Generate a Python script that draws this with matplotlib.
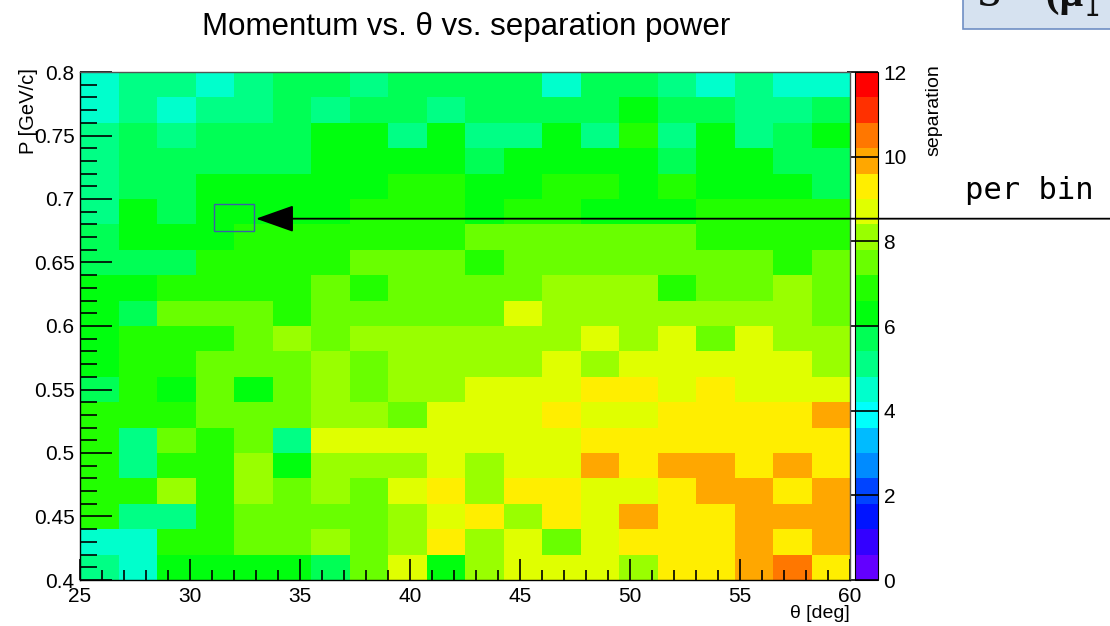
import colorsys

import numpy as np
import matplotlib
matplotlib.use('Agg')
import matplotlib.pyplot as plt
from matplotlib.colors import ListedColormap, BoundaryNorm
from matplotlib.patches import Rectangle
from matplotlib.ticker import MultipleLocator, FormatStrFormatter

plt.rcParams['font.family'] = ['Liberation Sans', 'DejaVu Sans']

# binning of the 2D histogram
theta_edges = np.linspace(25, 60, 21)
p_edges = np.linspace(0.4, 0.8, 21)
z_levels = np.linspace(0, 12, 21)
z_ticks = [0, 2, 4, 6, 8, 10, 12]

# separation power per bin; first row is P = 0.78-0.80, last row P = 0.40-0.42,
# columns run theta 25 -> 60 deg
separation = [
    [4.5, 5.1, 5.1, 4.5, 5.1, 5.7, 5.7, 5.1, 5.7, 5.7, 5.7, 5.7, 4.5, 5.7, 5.7, 5.1, 4.5, 5.1, 4.5, 4.5],
    [4.5, 5.1, 4.5, 5.1, 5.1, 5.7, 5.1, 5.7, 5.7, 5.1, 5.7, 5.7, 5.7, 5.7, 6.3, 5.7, 5.7, 5.1, 5.1, 5.7],
    [5.1, 5.7, 5.1, 5.7, 5.7, 5.7, 6.3, 6.3, 5.1, 6.3, 5.1, 5.1, 6.3, 5.1, 6.9, 5.1, 6.3, 5.1, 5.7, 6.3],
    [5.1, 5.7, 5.7, 5.7, 5.7, 5.7, 6.3, 6.3, 6.3, 6.3, 5.7, 6.3, 6.3, 6.3, 6.3, 5.7, 6.3, 6.3, 5.7, 5.7],
    [5.1, 5.7, 5.7, 6.3, 6.3, 6.3, 6.3, 6.3, 6.9, 6.9, 6.3, 6.3, 6.9, 6.9, 6.3, 6.9, 6.3, 6.3, 6.3, 5.7],
    [5.1, 6.3, 5.7, 6.3, 6.3, 6.3, 6.3, 6.9, 6.9, 6.9, 6.3, 6.9, 6.9, 6.3, 6.3, 6.3, 6.9, 6.9, 6.9, 6.9],
    [5.7, 6.3, 6.3, 6.3, 6.9, 6.9, 6.9, 6.9, 6.9, 6.9, 7.5, 7.5, 7.5, 7.5, 7.5, 7.5, 6.9, 6.9, 6.9, 6.9],
    [5.7, 5.7, 5.7, 6.9, 6.9, 6.9, 6.9, 7.5, 7.5, 7.5, 6.9, 7.5, 7.5, 7.5, 7.5, 7.5, 7.5, 7.5, 6.9, 7.5],
    [6.3, 6.3, 6.9, 6.9, 6.9, 6.9, 7.5, 6.9, 7.5, 7.5, 7.5, 7.5, 8.1, 8.1, 8.1, 6.9, 7.5, 7.5, 8.1, 7.5],
    [6.3, 5.7, 7.5, 7.5, 7.5, 6.9, 7.5, 7.5, 7.5, 7.5, 7.5, 8.7, 8.1, 8.1, 8.1, 8.1, 8.1, 8.1, 8.1, 7.5],
    [6.3, 6.9, 6.9, 6.9, 7.5, 8.1, 7.5, 8.1, 8.1, 8.1, 8.1, 8.1, 8.1, 8.7, 8.1, 8.7, 7.5, 8.7, 8.1, 8.1],
    [6.3, 6.9, 6.9, 7.5, 7.5, 7.5, 8.1, 7.5, 8.1, 8.1, 8.1, 8.1, 8.7, 8.1, 8.7, 8.7, 8.7, 8.7, 8.7, 8.1],
    [5.7, 6.9, 6.3, 7.5, 6.3, 7.5, 8.1, 7.5, 8.1, 8.1, 8.7, 8.7, 8.7, 9.3, 9.3, 8.7, 9.3, 8.7, 8.7, 8.7],
    [6.9, 6.9, 6.9, 7.5, 7.5, 7.5, 8.1, 8.1, 7.5, 8.7, 8.7, 8.7, 9.3, 8.7, 8.7, 9.3, 9.3, 9.3, 9.3, 9.9],
    [6.9, 5.1, 7.5, 6.9, 7.5, 5.1, 8.7, 8.7, 8.7, 8.7, 8.7, 8.7, 8.7, 9.3, 9.3, 9.3, 9.3, 9.3, 9.3, 9.3],
    [6.9, 5.1, 6.9, 6.9, 8.1, 6.3, 8.1, 8.1, 8.1, 8.7, 8.1, 8.7, 8.7, 9.9, 9.3, 9.9, 9.9, 9.3, 9.9, 9.3],
    [6.9, 6.9, 8.1, 6.9, 8.1, 7.5, 8.1, 7.5, 8.7, 9.3, 8.1, 9.3, 9.3, 8.7, 8.7, 9.3, 9.9, 9.9, 9.3, 9.9],
    [6.9, 5.1, 5.1, 6.9, 7.5, 7.5, 7.5, 7.5, 8.1, 8.7, 9.3, 8.1, 9.3, 8.7, 9.9, 9.3, 9.3, 9.9, 9.9, 9.9],
    [4.5, 4.5, 6.9, 6.9, 7.5, 7.5, 8.1, 7.5, 8.1, 9.3, 8.1, 8.7, 7.5, 8.7, 9.3, 9.3, 9.3, 9.9, 9.3, 9.9],
    [5.1, 4.5, 6.3, 6.3, 6.3, 6.3, 5.7, 7.5, 8.7, 6.3, 8.1, 8.7, 8.7, 8.7, 8.1, 9.3, 9.3, 9.9, 10.5, 9.3],
]

# highlighted region and where the arrow points
box_theta = (31.1, 32.9)
box_p = (0.675, 0.696)
arrow_tip = (33.0, 0.6845)

W, H = 1110, 626


def fx(px):
    return px / W


def fy(py):
    return 1 - py / H


# ROOT "pretty" palette: 50 HLS colours violet -> red, 20 contour levels
pretty = []
for i in range(50):
    hue = 280 - (i + 1) * 280 / 50
    pretty.append(colorsys.hls_to_rgb(hue / 360, 0.5, 1.0))
n_cont = len(z_levels) - 1
level_colors = [pretty[int((k + 0.99) * 50 / n_cont)] for k in range(n_cont)]
cmap = ListedColormap(level_colors)
norm = BoundaryNorm(z_levels, cmap.N)

fig = plt.figure(figsize=(W / 100, H / 100), dpi=100)
ax = fig.add_axes([fx(80), fy(580), (850 - 80) / W, (580 - 72) / H])
cax = fig.add_axes([fx(855), fy(580), 23 / W, (580 - 72) / H])
ax.set_zorder(3)  # so the arrow is drawn over the palette

z = np.array(separation)[::-1]
mesh = ax.pcolormesh(theta_edges, p_edges, z, cmap=cmap, norm=norm)
ax.set_xlim(theta_edges[0], theta_edges[-1])
ax.set_ylim(p_edges[0], p_edges[-1])

ax.xaxis.set_major_locator(MultipleLocator(5))
ax.xaxis.set_minor_locator(MultipleLocator(1))
ax.yaxis.set_major_locator(MultipleLocator(0.05))
ax.yaxis.set_minor_locator(MultipleLocator(0.01))
ax.xaxis.set_major_formatter(FormatStrFormatter('%g'))
ax.yaxis.set_major_formatter(FormatStrFormatter('%g'))
ax.tick_params(axis='x', which='major', direction='in', length=15, width=1.2, labelsize=15, pad=5)
ax.tick_params(axis='x', which='minor', direction='in', length=7, width=1.2)
ax.tick_params(axis='y', which='major', direction='in', length=23, width=1.2, labelsize=15, pad=4)
ax.tick_params(axis='y', which='minor', direction='in', length=12, width=1.2)
for sp in ax.spines.values():
    sp.set_linewidth(1.0)
    sp.set_color('#555555')
ax.spines['left'].set_color('black')
ax.spines['bottom'].set_color('black')

cb = fig.colorbar(mesh, cax=cax, ticks=z_ticks)
cb.outline.set_linewidth(0.8)
cb.ax.yaxis.set_major_formatter(FormatStrFormatter('%g'))
cb.ax.tick_params(direction='in', length=22, width=1.2, labelsize=15, pad=4)
cb.ax.minorticks_off()

# titles
fig.text(fx(466), fy(27), 'Momentum vs. θ vs. separation power', ha='center', va='center', fontsize=22.5)
fig.text(fx(29), fy(68), 'P [GeV/c]', rotation=90, ha='center', va='top', fontsize=14.5)
fig.text(fx(850), fy(614), 'θ [deg]', ha='right', va='center', fontsize=14)
fig.text(fx(934), fy(64), 'separation', rotation=90, ha='center', va='top', fontsize=14)

# marked bin and arrow coming in from the right
ax.add_patch(Rectangle((box_theta[0], box_p[0]), box_theta[1] - box_theta[0], box_p[1] - box_p[0],
                       fill=False, edgecolor='#3a5fa8', lw=1.0))
ax.annotate('', xy=arrow_tip, xycoords='data',
            xytext=(1.0, arrow_tip[1]), textcoords=('figure fraction', 'data'),
            arrowprops=dict(arrowstyle='-|>,head_length=2.4,head_width=0.85', mutation_scale=10,
                            color='black', lw=1.3, shrinkA=0, shrinkB=0),
            annotation_clip=False)

fig.text(fx(965), fy(190), 'per bin', ha='left', va='center', fontsize=22, family='DejaVu Sans Mono')

# slide box cut off at the top edge
fig.add_artist(Rectangle((fx(963), fy(29)), (1112 - 963) / W, 40 / H, transform=fig.transFigure,
                         facecolor='#d6e2f0', edgecolor='#6f8fc4', lw=1.2))
fig.text(fx(978), fy(6), 'S = (μ', ha='left', va='baseline', fontsize=30, fontweight='bold',
         family='Liberation Serif', color='#111111')
fig.text(fx(1084), fy(16), '1', ha='left', va='baseline', fontsize=19,
         family='DejaVu Sans Mono', color='#111111')

fig.savefig('out.png', dpi=100)
